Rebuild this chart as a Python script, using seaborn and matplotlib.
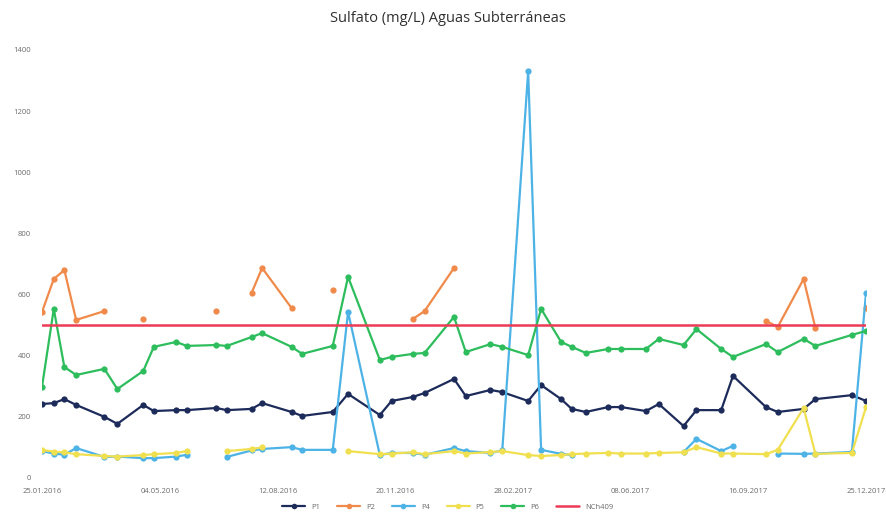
import numpy as np
import pandas as pd
import matplotlib
matplotlib.use("Agg")
import matplotlib.pyplot as plt
import matplotlib.dates as mdates
from matplotlib.lines import Line2D
import seaborn as sns

nan = np.nan

fechas = [
    "2016-01-25", "2016-02-04", "2016-02-13", "2016-02-23", "2016-03-18",
    "2016-03-29", "2016-04-20", "2016-04-29", "2016-05-18", "2016-05-27",
    "2016-06-21", "2016-06-30", "2016-07-21", "2016-07-30", "2016-08-24",
    "2016-09-02", "2016-09-28", "2016-10-11", "2016-11-07", "2016-11-17",
    "2016-12-05", "2016-12-15", "2017-01-09", "2017-01-19", "2017-02-09",
    "2017-02-19", "2017-03-13", "2017-03-24", "2017-04-10", "2017-04-19",
    "2017-05-01", "2017-05-20", "2017-05-31", "2017-06-21", "2017-07-02",
    "2017-07-23", "2017-08-03", "2017-08-24", "2017-09-03", "2017-10-01",
    "2017-10-11", "2017-11-02", "2017-11-12", "2017-12-13", "2017-12-25",
]

P1 = [242, 245, 258, 239, 200, 177, 239, 219, 222, 222,
      229, 222, 226, 245, 216, 203, 216, 275, 206, 252,
      265, 278, 324, 268, 288, 281, 252, 304, 258, 226,
      216, 232, 232, 219, 242, 170, 222, 222, 334, 232,
      216, 226, 258, 271, 252]

P2 = [543, 651, 680, 517, 546, nan, 520, nan, nan, nan,
      546, nan, 605, 687, 556, nan, 615, nan, nan, nan,
      520, 546, 687, nan, nan, nan, nan, nan, nan, nan,
      nan, nan, nan, nan, nan, nan, nan, nan, nan, 514,
      494, 651, 491, nan, 556]

P4 = [88, 80, 76, 98, 69, 70, 65, 65, 70, 76,
      nan, 69, 90, 95, 101, 92, 92, 543, 75, 82,
      82, 76, 98, 88, 82, 90, 1330, 92, 79, 75,
      nan, nan, nan, nan, nan, 85, 128, 88, 105, nan,
      80, 79, 80, 85, 605]

P5 = [92, 86, 84, 78, 72, 70, 75, 78, 82, 88,
      nan, 88, 95, 100, nan, nan, nan, 88, 78, 80,
      84, 78, 88, 80, 85, 88, 75, 72, 75, 78,
      80, 82, 80, 80, 82, 84, 101, 80, 80, 78,
      92, 229, 79, 82, 232]

P6 = [298, 553, 363, 337, 357, 291, 350, 429, 445, 432,
      435, 432, 461, 474, 429, 406, 432, 658, 386, 396,
      406, 409, 527, 412, 438, 429, 402, 553, 445, 429,
      409, 422, 422, 422, 455, 435, 487, 422, 396, 438,
      412, 455, 432, 468, 481]

NCH409 = 500

series_names = ["P1", "P2", "P4", "P5", "P6"]
series_vals = [P1, P2, P4, P5, P6]
series_cols = ["#1c2b5a", "#f08a4b", "#4db3e6", "#f0e050", "#2dbd5c"]
limit_name = "NCh409"
limit_col = "#ec3b55"

title = "Sulfato (mg/L) Aguas Subterráneas"
x_start, x_end = "2016-01-25", "2017-12-25"

sns.set_theme(style="white")
plt.rcParams["font.family"] = ["Open Sans", "DejaVu Sans"]

fig = plt.figure(figsize=(8.87, 5.25), dpi=100)
W, H = 887, 525
ax = fig.add_axes([42 / W, 1 - 478 / H, (866 - 42) / W, (478 - 50) / H])

dates = pd.to_datetime(fechas)
for name, vals, col in zip(series_names, series_vals, series_cols):
    s = pd.Series(vals, dtype=float)
    df = pd.DataFrame({"fecha": dates, "valor": s, "seg": s.isna().cumsum()}).dropna()
    sns.lineplot(data=df, x="fecha", y="valor", units="seg", estimator=None,
                 color=col, lw=1.6, marker="o", markersize=4.5,
                 markeredgewidth=0, ax=ax, legend=False)

lim_df = pd.DataFrame({"fecha": dates, "valor": [NCH409] * len(dates)})
sns.lineplot(data=lim_df, x="fecha", y="valor", color=limit_col, lw=1.8,
             ax=ax, legend=False)

ax.set_xlim(pd.Timestamp(x_start), pd.Timestamp(x_end))
ax.set_ylim(0, 1400)
ax.set_yticks(np.arange(0, 1401, 200))
ticks = pd.date_range(x_start, x_end, freq="100D")
ax.set_xticks(ticks)
ax.xaxis.set_major_formatter(mdates.DateFormatter("%d.%m.%Y"))
ax.tick_params(axis="both", labelsize=5.5, colors="#6a6a6a", length=0)
ax.tick_params(axis="y", pad=8)
ax.tick_params(axis="x", pad=7)
ax.set_xlabel("")
ax.set_ylabel("")
for sp in ax.spines.values():
    sp.set_visible(False)
ax.grid(False)

fig.text(0.505, 1 - 18 / H, title, ha="center", va="center",
         fontsize=10.5, color="#303030")

handles = [Line2D([0], [0], color=c, lw=1.6, marker="o", markersize=4,
                  markeredgewidth=0) for c in series_cols]
handles.append(Line2D([0], [0], color=limit_col, lw=1.8))
fig.legend(handles, series_names + [limit_name], loc="center",
           bbox_to_anchor=(0.505, 1 - 507 / H), ncol=6, frameon=False,
           fontsize=5.5, handlelength=3, columnspacing=2.2,
           labelcolor="#6a6a6a")

fig.savefig("out.png", dpi=100, facecolor="white")
